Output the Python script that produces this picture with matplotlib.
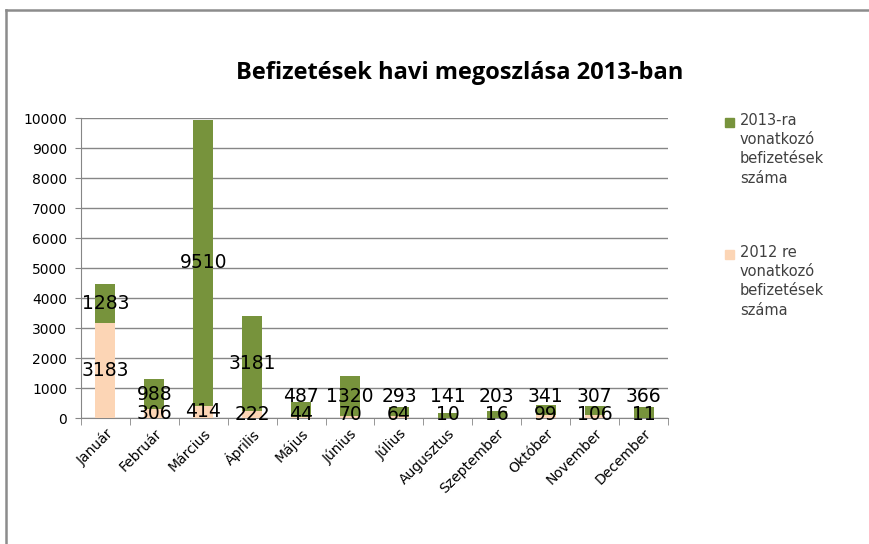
import matplotlib.pyplot as plt
from matplotlib.lines import Line2D
from matplotlib.patches import Rectangle
import numpy as np

# Havi befizetések
months = ["Január", "Február", "Március", "Április", "Május", "Június",
          "Július", "Augusztus", "Szeptember", "Október", "November", "December"]
vals_2012 = [3183, 306, 414, 222, 44, 70, 64, 10, 16, 99, 106, 11]
vals_2013 = [1283, 988, 9510, 3181, 487, 1320, 293, 141, 203, 341, 307, 366]
yticks = list(range(0, 10001, 1000))
legend_labels = ["2013-ra\nvonatkozó\nbefizetések\nszáma",
                 "2012 re\nvonatkozó\nbefizetések\nszáma"]

green = "#77933C"
peach = "#FCD5B5"
W, H = 870, 544

fig = plt.figure(figsize=(8.7, 5.44), dpi=100)
ax = fig.add_axes([81 / W, 1 - 418 / H, (668 - 81) / W, 300 / H])

x = np.arange(len(months))
ax.bar(x, vals_2012, width=0.41, color=peach, zorder=3)
ax.bar(x, vals_2013, width=0.41, bottom=vals_2012, color=green, zorder=3)

# data labels (centre of segment, pushed up a bit for small ones)
for i in x:
    b, t = vals_2012[i], vals_2013[i]
    ax.text(i, max(b / 2, 110), str(b), ha="center", va="center",
            fontsize=13.5, family="DejaVu Sans", zorder=5)
    ax.text(i, max(b + t / 2, 720), str(t), ha="center", va="center",
            fontsize=13.5, family="DejaVu Sans", zorder=5)

ax.set_xlim(-0.5, len(months) - 0.5)
ax.set_ylim(0, 10000)
ax.set_yticks(yticks)
ax.set_yticklabels([str(v) for v in yticks], fontsize=10, family="DejaVu Sans")
ax.set_xticks(x)
ax.set_xticklabels(months, rotation=45, ha="right", rotation_mode="anchor",
                   fontsize=10, family="DejaVu Sans")
ax.set_xticks(np.arange(-0.5, len(months), 1), minor=True)
ax.tick_params(axis="x", which="major", length=0, pad=6)
ax.tick_params(axis="x", which="minor", length=5, color="#868686")
ax.tick_params(axis="y", length=4, color="#868686", pad=6)
ax.grid(axis="y", color="#868686", linewidth=1, zorder=0)
for s in ["top", "right"]:
    ax.spines[s].set_visible(False)
ax.spines["left"].set_color("#868686")
ax.spines["bottom"].set_color("#868686")

# legend, drawn by hand: square next to first line, text wrapping below
for k, (lab, col) in enumerate(zip(legend_labels, [green, peach])):
    top = 113 + k * 132
    fig.add_artist(Rectangle((725 / W, 1 - (top + 14) / H), 9 / W, 9 / H,
                             color=col, transform=fig.transFigure))
    fig.text(740 / W, 1 - top / H, lab, ha="left", va="top", fontsize=10.5,
             color="#404040", linespacing=1.35, family="DejaVu Sans")

fig.text(0.528, 1 - 73 / H, "Befizetések havi megoszlása 2013-ban",
         ha="center", va="center", fontsize=17, fontweight="bold", family="Open Sans")

# outer frame
fig.add_artist(Line2D([6 / W, 1], [1 - 10 / H, 1 - 10 / H], color="#8c8c8c", lw=1.8,
                      transform=fig.transFigure))
fig.add_artist(Line2D([6 / W, 6 / W], [0, 1 - 10 / H], color="#8c8c8c", lw=1.8,
                      transform=fig.transFigure))

fig.savefig("out.png", dpi=100)
